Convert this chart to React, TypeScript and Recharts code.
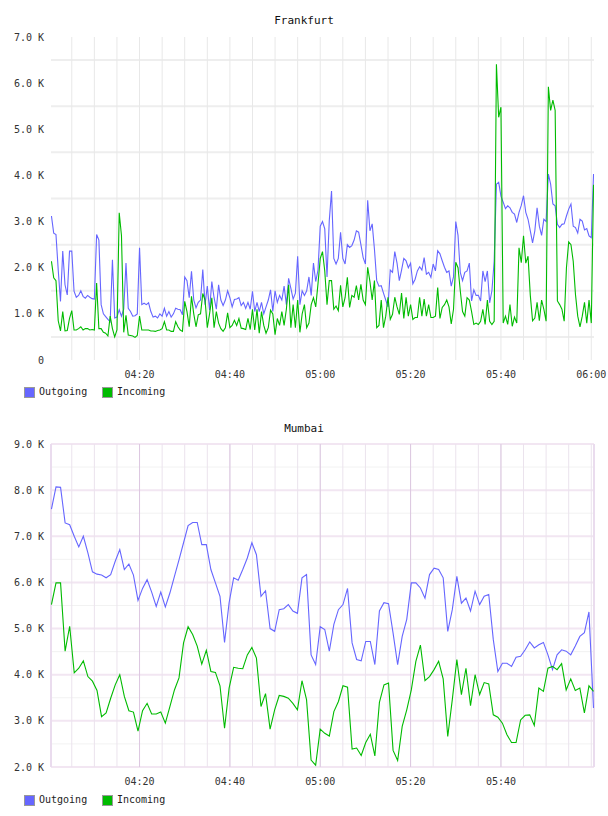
import React from 'react';
import { LineChart, Line, XAxis, YAxis, ReferenceLine } from 'recharts';

const FONT = '"DejaVu Sans Mono", monospace';
const BLUE = '#6666ff';
const GREEN = '#00bb00';

// minutes after 04:00
const X_MIN = 0.4;
const X_MAX = 120.6;

// Frankfurt: one sample every 30 s from 04:00:30 (values in K)
const FRA_FIRST = 0.5;
const FRA_STEP = 0.5;
const fraOutgoing = [
  3.12, 2.75, 2.72, 1.95, 1.27, 2.36, 1.63, 1.41, 2.36, 2.36,
  1.49, 1.36, 1.40, 1.50, 1.38, 1.34, 1.40, 1.36, 1.33, 1.32,
  2.72, 2.60, 1.20, 1.00, 0.94, 0.88, 0.83, 2.17, 0.91, 0.93,
  1.09, 0.95, 1.10, 2.10, 1.12, 1.05, 0.95, 0.96, 1.00, 2.43,
  1.20, 1.23, 1.20, 1.24, 1.05, 0.93, 0.95, 0.91, 1.00, 0.95,
  1.12, 0.95, 1.05, 0.93, 1.00, 1.12, 1.10, 1.09, 0.98, 1.80,
  1.72, 1.35, 1.92, 1.30, 1.13, 1.25, 1.30, 1.96, 1.20, 1.60,
  1.08, 1.70, 1.35, 1.10, 1.63, 1.30, 1.18, 1.30, 1.50, 1.35,
  1.15, 1.31, 1.32, 1.35, 1.18, 1.25, 1.12, 1.25, 1.10, 1.49,
  1.05, 1.25, 1.05, 1.25, 1.00, 1.15, 1.30, 1.52, 1.05, 1.50,
  1.25, 1.40, 1.30, 1.60, 1.20, 1.77, 1.55, 1.32, 1.45, 2.25,
  1.20, 1.50, 1.40, 1.50, 1.80, 1.40, 2.10, 1.70, 1.95, 2.90,
  3.00, 2.84, 1.80, 3.02, 3.66, 2.20, 2.08, 2.20, 2.77, 2.20,
  2.08, 2.50, 2.44, 2.48, 2.60, 2.80, 2.77, 2.50, 2.22, 2.08,
  3.46, 2.80, 2.95, 2.40, 1.72, 1.60, 1.61, 1.45, 1.30, 1.15,
  1.95, 1.90, 2.35, 2.10, 1.72, 1.95, 2.20, 2.15, 2.00, 2.10,
  1.65, 1.75, 1.93, 2.02, 1.95, 2.22, 1.86, 1.90, 1.79, 2.08,
  1.93, 2.37, 2.30, 2.15, 2.01, 1.90, 1.93, 1.60, 1.80, 3.00,
  2.70, 1.90, 1.72, 1.90, 1.93, 2.10, 1.28, 1.52, 1.40, 1.40,
  1.28, 1.93, 1.70, 1.93, 1.24, 1.50, 2.14, 3.81, 3.85, 3.55,
  3.42, 3.28, 3.34, 3.30, 3.20, 3.16, 2.98, 3.20, 3.35, 3.56,
  3.20, 3.05, 2.80, 2.54, 2.80, 3.30, 2.90, 2.70, 3.05, 3.00,
  4.03, 3.81, 3.38, 3.34, 2.94, 2.87, 2.94, 2.95, 3.12, 3.27,
  3.38, 2.90, 2.87, 2.75, 3.05, 3.01, 2.82, 2.85, 2.69, 2.65,
  4.03,
];
const fraIncoming = [
  2.14, 1.78, 1.72, 0.85, 0.63, 1.05, 0.63, 0.64, 0.90, 1.07,
  0.65, 0.65, 0.68, 0.72, 0.65, 0.68, 0.68, 0.65, 0.66, 0.65,
  1.67, 0.68, 0.68, 0.60, 0.58, 0.52, 0.95, 0.68, 0.50, 0.65,
  3.19, 2.70, 0.60, 0.97, 0.54, 0.53, 0.52, 0.49, 0.53, 0.95,
  0.65, 0.65, 0.65, 0.65, 0.63, 0.63, 0.62, 0.64, 0.65, 0.68,
  0.83, 0.65, 0.65, 0.62, 0.62, 0.83, 0.72, 0.65, 0.62, 1.27,
  1.05, 0.72, 1.38, 1.00, 0.72, 0.98, 1.00, 1.44, 1.30, 0.70,
  1.00, 1.35, 0.70, 1.05, 0.80, 0.68, 0.62, 0.70, 1.02, 0.70,
  0.75, 0.86, 0.75, 0.90, 0.69, 0.68, 0.66, 0.90, 0.66, 1.10,
  0.65, 1.10, 0.58, 1.05, 0.75, 0.58, 0.70, 1.08, 1.00, 0.55,
  0.90, 0.75, 1.05, 0.75, 1.10, 1.63, 0.70, 1.20, 0.70, 1.30,
  0.60, 1.00, 1.20, 0.70, 0.80, 1.20, 1.35, 1.15, 1.65, 2.20,
  2.35, 1.93, 1.20, 1.72, 1.72, 1.10, 1.17, 1.07, 1.62, 1.15,
  1.35, 1.79, 1.14, 1.40, 1.36, 1.61, 1.30, 1.64, 1.30, 1.20,
  2.01, 1.70, 1.30, 1.72, 0.70, 0.75, 1.30, 0.70, 0.95, 1.36,
  0.88, 0.99, 1.36, 1.15, 0.99, 1.45, 0.90, 1.36, 0.95, 1.20,
  0.88, 0.92, 0.92, 1.36, 0.95, 1.32, 0.95, 1.20, 0.92, 0.92,
  0.95, 1.57, 0.90, 1.14, 1.20, 1.30, 1.15, 0.78, 1.10, 2.12,
  2.00, 1.50, 1.05, 0.95, 1.35, 1.30, 1.05, 0.77, 0.80, 0.77,
  0.84, 1.10, 0.77, 1.30, 0.84, 0.77, 0.84, 6.41, 5.26, 5.48,
  0.80, 0.95, 0.77, 1.20, 0.73, 0.93, 0.80, 2.43, 2.11, 2.69,
  2.10, 2.25, 1.40, 0.85, 0.91, 1.25, 0.85, 1.30, 1.10, 0.84,
  5.92, 5.41, 5.63, 5.41, 1.28, 1.20, 1.10, 0.84, 2.00, 2.56,
  2.50, 2.14, 1.42, 0.95, 0.72, 0.95, 1.25, 0.80, 1.30, 0.80,
  3.80,
];

// Mumbai: roughly one sample a minute from 04:00:30 (values in K)
const MUM_FIRST = 0.5;
const MUM_STEP = 60.5 / 60;
const mumOutgoing = [
  7.59, 8.07, 8.06, 7.29, 7.25, 7.00, 6.77, 7.00, 6.64, 6.23,
  6.18, 6.16, 6.10, 6.17, 6.46, 6.71, 6.28, 6.40, 6.16, 5.61,
  5.87, 6.06, 5.79, 5.48, 5.79, 5.47, 5.77, 6.13, 6.49, 6.86,
  7.23, 7.30, 7.30, 6.82, 6.82, 6.28, 5.99, 5.70, 4.70, 5.56,
  6.10, 6.05, 6.28, 6.53, 6.86, 6.60, 5.70, 5.82, 5.00, 4.94,
  5.41, 5.43, 5.52, 5.38, 5.33, 6.10, 6.17, 4.43, 4.22, 5.04,
  4.98, 4.51, 5.09, 5.41, 5.52, 5.87, 4.69, 4.33, 4.30, 4.72,
  4.72, 4.22, 5.38, 5.56, 5.54, 4.90, 4.22, 4.83, 5.20, 5.99,
  5.99, 5.88, 5.66, 6.17, 6.31, 6.28, 6.10, 4.94, 5.41, 6.13,
  5.55, 5.66, 5.38, 5.81, 5.52, 5.70, 5.74, 4.76, 4.07, 4.25,
  4.25, 4.18, 4.38, 4.40, 4.54, 4.71, 4.58, 4.65, 4.70, 4.43,
  4.11, 4.43, 4.54, 4.51, 4.43, 4.62, 4.83, 4.91, 5.36, 3.28,
];
const mumIncoming = [
  5.52, 5.99, 5.99, 4.51, 5.05, 4.04, 4.14, 4.30, 3.96, 3.86,
  3.66, 3.09, 3.17, 3.49, 3.78, 4.00, 3.53, 3.22, 3.19, 2.78,
  3.22, 3.38, 3.15, 3.15, 3.19, 2.95, 3.31, 3.67, 3.93, 4.69,
  5.04, 4.87, 4.62, 4.23, 4.53, 4.07, 4.05, 3.76, 2.84, 3.71,
  4.16, 4.14, 4.13, 4.43, 4.59, 4.36, 3.31, 3.59, 2.82, 3.24,
  3.55, 3.53, 3.49, 3.38, 3.24, 3.87, 3.46, 2.15, 2.04, 2.82,
  2.73, 2.67, 3.20, 3.42, 3.76, 3.73, 2.39, 2.41, 2.25, 2.53,
  2.71, 2.24, 3.40, 3.78, 3.82, 2.36, 2.14, 2.88, 3.24, 3.67,
  4.29, 4.64, 3.87, 3.96, 4.11, 4.29, 3.91, 2.66, 3.46, 4.33,
  3.57, 4.14, 3.33, 4.00, 3.57, 3.83, 3.80, 3.13, 3.08, 2.95,
  2.70, 2.53, 2.53, 3.02, 3.12, 3.13, 2.90, 3.71, 3.64, 4.14,
  4.18, 4.11, 4.24, 3.67, 3.91, 3.66, 3.71, 3.17, 3.76, 3.64,
];

const fraTimeTicks = [20, 40, 60, 80, 100, 120];
const mumTimeTicks = [20, 40, 60, 80, 100];
const fiveMinuteLines = [5, 10, 15, 20, 25, 30, 35, 40, 45, 50, 55, 60, 65, 70, 75, 80, 85, 90, 95, 100, 105, 110, 115, 120];
const twentyMinuteLines = [20, 40, 60, 80, 100];
const fraYTicks = [0, 1, 2, 3, 4, 5, 6, 7];
const fraHalfLines = [0.5, 1.5, 2.5, 3.5, 4.5, 5.5, 6.5];
const mumYTicks = [2, 3, 4, 5, 6, 7, 8, 9];
const mumHalfLines = [2.5, 3.5, 4.5, 5.5, 6.5, 7.5, 8.5];

const toRows = (first: number, step: number, out: number[], inc: number[]) =>
  out.map((v, i) => ({ t: first + i * step, outgoing: v, incoming: inc[i] }));

const clock = (m: number) => {
  const h = 4 + Math.floor(m / 60);
  const mm = Math.round(m % 60);
  return `${String(h).padStart(2, '0')}:${String(mm).padStart(2, '0')}`;
};
const kilo = (v: number) => (v === 0 ? '0' : `${v.toFixed(1)} K`);

const tickStyle = { fontSize: 10, fontFamily: FONT, fill: '#333' };

function Legend({ top }: { top: number }) {
  const item = (left: number, color: string, label: string) => (
    <div style={{ position: 'absolute', left, top, height: 12, display: 'flex', alignItems: 'center' }}>
      <span style={{ width: 9, height: 9, background: color, border: '1px solid #999', marginRight: 4 }} />
      <span style={{ fontSize: 10, lineHeight: '12px', color: '#222' }}>{label}</span>
    </div>
  );
  return (
    <>
      {item(24, BLUE, 'Outgoing')}
      {item(102, GREEN, 'Incoming')}
    </>
  );
}

type ChartProps = {
  rows: { t: number; outgoing: number; incoming: number }[];
  yDomain: [number, number];
  yTicks: number[];
  halfLines: number[];
  timeTicks: number[];
  boxed: boolean;
};

function TrafficChart({ rows, yDomain, yTicks, halfLines, timeTicks, boxed }: ChartProps) {
  return (
    <LineChart width={608} height={380} data={rows} margin={{ top: 36, right: 14, bottom: 0, left: 0 }}>
      {halfLines.map((v) => (
        <ReferenceLine key={`h${v}`} y={v} stroke={boxed ? '#f2f2f2' : '#eeeeee'} strokeWidth={boxed ? 1 : 2} />
      ))}
      {boxed &&
        yTicks.map((v) => <ReferenceLine key={`k${v}`} y={v} stroke="#f2e6f2" strokeWidth={2} />)}
      {fiveMinuteLines.map((v) => (
        <ReferenceLine key={`v${v}`} x={v} stroke={boxed ? '#ebe3ed' : '#e8e8e8'} />
      ))}
      {boxed &&
        twentyMinuteLines.map((v) => <ReferenceLine key={`m${v}`} x={v} stroke="#dcc8e0" />)}
      {boxed && <ReferenceLine x={X_MIN} stroke="#eadcee" strokeWidth={2} />}
      {boxed && <ReferenceLine x={X_MAX} stroke="#eadcee" strokeWidth={2} />}
      <XAxis
        type="number"
        dataKey="t"
        domain={[X_MIN, X_MAX]}
        ticks={timeTicks}
        interval={0}
        tickFormatter={clock}
        axisLine={false}
        tickLine={false}
        tickSize={6}
        tickMargin={5}
        height={21}
        tick={tickStyle}
        allowDataOverflow
      />
      <YAxis
        type="number"
        domain={yDomain}
        ticks={yTicks}
        interval={0}
        tickFormatter={kilo}
        axisLine={false}
        tickLine={false}
        tickSize={6}
        tickMargin={1}
        width={51}
        tick={tickStyle}
        allowDataOverflow
      />
      <Line type="linear" dataKey="outgoing" stroke={BLUE} strokeWidth={1.1} dot={false} isAnimationActive={false} />
      <Line type="linear" dataKey="incoming" stroke={GREEN} strokeWidth={1.1} dot={false} isAnimationActive={false} />
    </LineChart>
  );
}

export default function App() {
  const fraRows = toRows(FRA_FIRST, FRA_STEP, fraOutgoing, fraIncoming);
  const mumRows = toRows(MUM_FIRST, MUM_STEP, mumOutgoing, mumIncoming);
  const title = (top: number, text: string) => (
    <div style={{ position: 'absolute', top, left: 0, width: 608, textAlign: 'center', fontSize: 11, lineHeight: '12px', color: '#111' }}>
      {text}
    </div>
  );
  return (
    <div style={{ position: 'absolute', left: 0, top: 0, width: 608, height: 816, background: '#fff', fontFamily: FONT }}>
      {title(15, 'Frankfurt')}
      <div style={{ position: 'absolute', left: 0, top: 1 }}>
        <TrafficChart rows={fraRows} yDomain={[0, 7]} yTicks={fraYTicks} halfLines={fraHalfLines} timeTicks={fraTimeTicks} boxed={false} />
      </div>
      <Legend top={386} />
      {title(423, 'Mumbai')}
      <div style={{ position: 'absolute', left: 0, top: 408 }}>
        <TrafficChart rows={mumRows} yDomain={[2, 9]} yTicks={mumYTicks} halfLines={mumHalfLines} timeTicks={mumTimeTicks} boxed />
      </div>
      <Legend top={794} />
    </div>
  );
}
